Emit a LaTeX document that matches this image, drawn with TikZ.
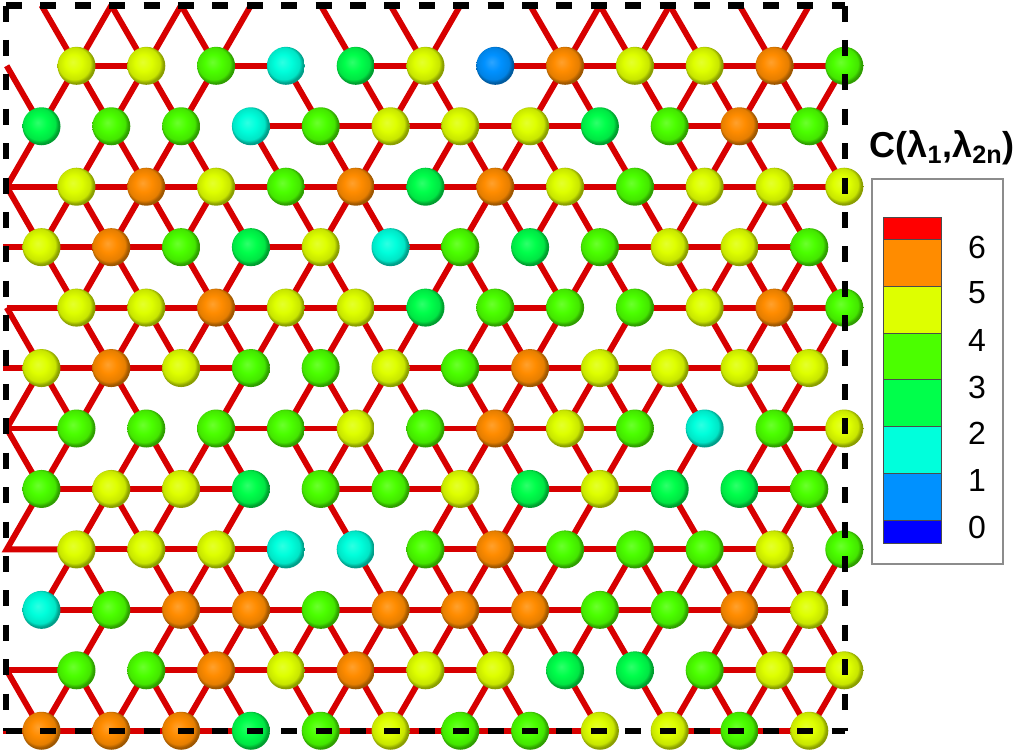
\documentclass[tikz,border=0pt]{standalone}
\usepackage{fontspec}
\setmainfont{Liberation Sans}
\usetikzlibrary{backgrounds}
\definecolor{bondred}{RGB}{215,0,0}
\definecolor{cR}{RGB}{255,0,0}
\definecolor{cO}{RGB}{255,140,0}
\definecolor{cY}{RGB}{222,255,0}
\definecolor{cL}{RGB}{75,255,0}
\definecolor{cG}{RGB}{0,255,75}
\definecolor{cC}{RGB}{0,255,220}
\definecolor{cB}{RGB}{0,145,255}
\definecolor{cD}{RGB}{0,0,255}
\makeatletter
\pgfdeclareradialshading[tikz@ball]{sball}{\pgfpoint{-5bp}{5bp}}{%
 color(0bp)=(tikz@ball!82!white); color(11bp)=(tikz@ball); color(21bp)=(tikz@ball!90!black); color(25bp)=(tikz@ball!62!black); color(50bp)=(tikz@ball!62!black)}
\makeatother
\tikzset{
  site/.style={circle, inner sep=0pt, minimum size=28.5pt, ball color=#1, shading=sball},
  bond/.style={draw=bondred, line width=4.4pt},
  boxdash/.style={draw=black, line width=4.6pt, dash pattern=on 12pt off 13.8pt},
  cbseg/.style={draw=black!70, line width=0.5pt},
  cblab/.style={font=\fontsize{24}{24}\selectfont, anchor=center},
}
\begin{document}
\begin{tikzpicture}[x={(0.75pt,0)}, y={(0,-0.75pt)}]
\useasboundingbox (0,0) rectangle (1024,751);
% ---------- sites ----------
\foreach \r/\cl in {
 1/{Y,Y,L,C,G,Y,B,O,Y,Y,O,L},
 2/{G,L,L,C,L,Y,Y,Y,G,L,O,L},
 3/{Y,O,Y,L,O,G,O,Y,L,Y,Y,Y},
 4/{Y,O,L,G,Y,C,L,G,L,Y,Y,L},
 5/{Y,Y,O,Y,Y,G,L,L,L,Y,O,L},
 6/{Y,O,Y,L,L,Y,L,O,Y,Y,Y,Y},
 7/{L,L,L,L,Y,L,O,Y,L,C,L,Y},
 8/{L,Y,Y,G,L,L,Y,G,Y,G,G,L},
 9/{Y,Y,Y,C,C,L,O,L,L,L,Y,L},
 10/{C,L,O,O,L,O,O,O,L,L,O,Y},
 11/{L,L,O,Y,O,Y,Y,G,G,L,Y,Y},
 12/{O,O,O,G,L,Y,L,L,Y,Y,L,Y}}{
  \pgfmathsetmacro\yy{65.8+60.45*(\r-1)}
  \pgfmathsetmacro\xo{isodd(\r) ? 76.5 : 41.5}
  \foreach \c [count=\k from 0] in \cl {
    \node[site=c\c] (n-\r-\k) at ({\xo+69.8*\k},\yy) {};
  }
}
% ---------- boundary points ----------
\foreach \k in {0,...,11} { \coordinate (t-\k) at ({41.5+69.8*\k},5.35); }
\foreach \r in {1,3,5,7,9,11} { \coordinate (l-\r) at (6.7,{65.8+60.45*(\r-1)}); }
\foreach \r in {4,6,12} { \coordinate (e-\r) at (3,{65.8+60.45*(\r-1)}); }
% ---------- bonds ----------
\begin{scope}[on background layer]
 % horizontal
 \foreach \r/\ks in {
  1/{0,2,4,6,7,8,9,10},
  2/{3,4,5,6,7,9,10},
  3/{0,1,2,3,4,5,6,7,8,9,10},
  4/{0,1,3,5,8,9,10},
  5/{0,1,2,3,4,6,8,9,10},
  6/{0,1,2,5,6,7,8,9,10},
  7/{2,3,5,6,7,10},
  8/{0,1,2,4,5,7,8,10},
  9/{0,1,2,5,6,7,8,9},
  10/{0,1,2,3,4,5,6,7,8,9,10},
  11/{1,2,3,4,5,9,10},
  12/{0,1,2,4,5,6,7,9,10}}{
   \foreach \k in \ks {
     \pgfmathtruncatemacro\kk{\k+1}
     \draw[bond] (n-\r-\k.center) -- (n-\r-\kk.center);
   }
 }
 % down-left
 \foreach \r/\ks in {
  1/{0,1,2,5,7,9,10,11},
  2/{1,2,5,6,7,10},
  3/{0,1,2,4,6,7,9,10},
  4/{1,3,4,6,8,10,11},
  5/{1,2,3,4,5,6,7,8,10,11},
  6/{1,3,4,5,7,8,9,11},
  7/{0,1,2,4,5,6,8,9,10,11},
  8/{1,2,3,6,7,8,11},
  9/{0,2,3,5,6,7,8,9,10,11},
  10/{1,2,3,4,5,6,7,8,9,10,11},
  11/{0,1,2,4,5,6,9,10,11}}{
   \pgfmathtruncatemacro\rr{\r+1}
   \foreach \k in \ks {
     \pgfmathtruncatemacro\kt{isodd(\r) ? \k : \k-1}
     \draw[bond] (n-\r-\k.center) -- (n-\rr-\kt.center);
   }
 }
 % down-right
 \foreach \r/\ks in {
  1/{0,1,3,4,5,7,8,9,10},
  2/{1,2,3,4,6,7,8,9,10,11},
  3/{0,1,2,3,4,6,7,8,10},
  4/{0,1,2,4,6,7,8,9,10,11},
  5/{0,1,2,3,4,6,9,10},
  6/{0,1,4,5,6,7,8,9,10},
  7/{1,2,3,4,5,6,7,10},
  8/{1,4,6,9,10,11},
  9/{0,1,2,4,5,6,8,9,10},
  10/{2,3,4,5,6,7,8,10,11},
  11/{0,1,2,3,4,6,7,8,9,10}}{
   \pgfmathtruncatemacro\rr{\r+1}
   \foreach \k in \ks {
     \pgfmathtruncatemacro\kt{isodd(\r) ? \k+1 : \k}
     \draw[bond] (n-\r-\k.center) -- (n-\rr-\kt.center);
   }
 }
 % bonds leaving through the top edge
 \foreach \k in {0,1,2,4,5,7,8,9,10} { \draw[bond] (n-1-\k.center) -- (t-\k); }
 \foreach \k in {0,1,2,5,7,8,10} {
   \pgfmathtruncatemacro\kk{\k+1}
   \draw[bond] (n-1-\k.center) -- (t-\kk);
 }
 % bonds leaving through the left edge
 \draw[bond] (l-1) -- (n-2-0.center);
 \draw[bond] (n-2-0.center) -- (l-3) -- (n-4-0.center);
 \draw[bond] (l-3) -- (n-3-0.center);
 \draw[bond] (l-5) -- (n-5-0.center);
 \draw[bond] (l-5) -- (n-6-0.center);
 \draw[bond] (n-6-0.center) -- (l-7) -- (n-8-0.center);
 \draw[bond] (l-7) -- (n-7-0.center);
 \draw[bond] (n-8-0.center) -- (l-9) -- (n-9-0.center);
 \draw[bond] (l-11) -- (n-11-0.center);
 \draw[bond] (l-11) -- (n-12-0.center);
 \foreach \r in {4,6,12} { \draw[bond] (e-\r) -- (n-\r-0.center); }
\end{scope}
% ---------- periodic cell ----------
\coordinate (bTL) at (6,5.5);
\coordinate (bTR) at (845,5.5);
\coordinate (bBL) at (6,730.7);
\coordinate (bBR) at (845,730.7);
\draw[boxdash] (bTL) -- (bTR);
\draw[boxdash] (bTL) -- (bBL);
\draw[boxdash] (bBL) -- (bBR);
\draw[boxdash] (bTR) -- (bBR);
% ---------- colour bar ----------
\node[font=\fontsize{27}{27}\selectfont\bfseries, anchor=center] (title) at (942,148)
  {C(λ\textsubscript{1},λ\textsubscript{2n})};
\draw[draw=black!45, line width=0.8pt] (872,179) rectangle (1003,564);
\foreach \ya/\yb/\cc in {217/239/cR, 239/286/cO, 286/333/cY, 333/379/cL,
  379/426/cG, 426/473/cC, 473/520/cB, 520/543/cD} {
  \draw[cbseg, fill=\cc] (883,\ya) rectangle (941,\yb);
}
\foreach \v/\yv in {6/247, 5/293, 4/340, 3/387, 2/433, 1/480, 0/527} {
  \node[cblab] (lab\v) at (977,\yv) {\v};
}
\end{tikzpicture}
\end{document}
